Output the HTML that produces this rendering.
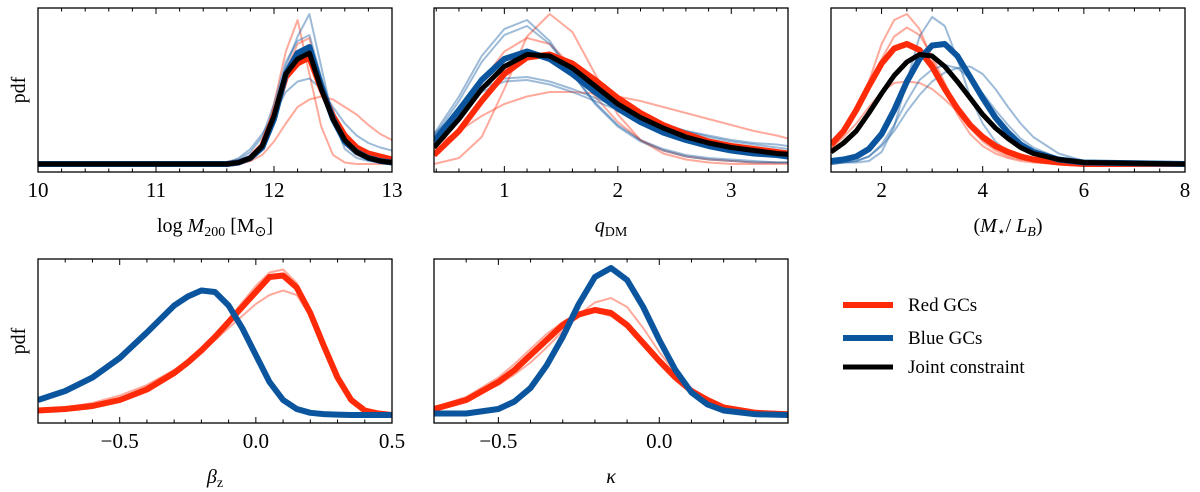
<!DOCTYPE html>
<html><head><meta charset="utf-8"><style>
html,body{margin:0;padding:0;background:#fff;}
svg{display:block;font-family:"Liberation Serif",serif;}
</style></head><body>
<svg id="fig" width="1200" height="492" viewBox="0 0 1200 492" xmlns="http://www.w3.org/2000/svg"></svg>
<script>
// ---- Panel 1: log M200 ----
const m200X = [10,11,11.5,11.6,11.7,11.8,11.9,12.0,12.1,12.2,12.3,12.4,12.5,12.6,12.7,12.8,12.9,13.0];
const m200Black = [0,0,0,0,0.01,0.04,0.12,0.32,0.6,0.7,0.74,0.5,0.3,0.16,0.08,0.04,0.02,0.01];
const m200Red   = [0,0,0,0,0.01,0.04,0.12,0.32,0.58,0.67,0.71,0.5,0.32,0.19,0.11,0.07,0.05,0.03];
const m200Blue  = [0,0,0,0,0.01,0.04,0.11,0.3,0.6,0.74,0.78,0.52,0.3,0.15,0.08,0.04,0.02,0.01];
const m200FaintRed = [
 [0,0,0,0,0,0.02,0.1,0.4,0.75,0.96,0.6,0.25,0.06,0.01,0,0,0,0],
 [0,0,0,0,0.01,0.02,0.06,0.15,0.27,0.38,0.43,0.45,0.43,0.38,0.33,0.26,0.2,0.16],
 [0,0,0,0,0.01,0.03,0.1,0.33,0.62,0.8,0.84,0.52,0.28,0.13,0.06,0.03,0.01,0]
];
const m200FaintBlue = [
 [0,0,0,0,0.02,0.05,0.12,0.35,0.65,0.85,1.0,0.65,0.3,0.1,0.04,0.02,0.01,0],
 [0,0,0,0.01,0.04,0.1,0.2,0.33,0.48,0.55,0.57,0.5,0.38,0.27,0.19,0.14,0.11,0.09],
 [0,0,0,0.01,0.03,0.08,0.18,0.4,0.68,0.82,0.86,0.58,0.33,0.16,0.08,0.05,0.03,0.02]
];
// ---- Panel 2: qDM ----
const qX = [0.38,0.6,0.8,1.0,1.2,1.4,1.6,1.8,2.0,2.2,2.4,2.6,2.8,3.0,3.2,3.4,3.5];
const qBlack = [0.11,0.3,0.5,0.65,0.73,0.72,0.64,0.52,0.4,0.31,0.24,0.18,0.14,0.11,0.09,0.07,0.065];
const qBlue  = [0.15,0.36,0.56,0.7,0.75,0.7,0.6,0.48,0.37,0.28,0.21,0.16,0.12,0.09,0.07,0.06,0.05];
const qRed   = [0.06,0.22,0.42,0.6,0.71,0.73,0.67,0.56,0.44,0.34,0.26,0.2,0.15,0.12,0.1,0.08,0.07];
const qFaintRed = [
 [0.0,0.04,0.18,0.5,0.85,1.0,0.88,0.6,0.33,0.16,0.07,0.03,0.01,0,0,0,0],
 [0.12,0.22,0.32,0.4,0.45,0.48,0.48,0.47,0.45,0.42,0.38,0.34,0.3,0.26,0.22,0.19,0.17],
 [0.1,0.3,0.55,0.75,0.84,0.8,0.65,0.45,0.28,0.16,0.09,0.05,0.03,0.02,0.01,0.01,0.01]
];
const qFaintBlue = [
 [0.2,0.45,0.72,0.9,0.96,0.82,0.6,0.4,0.25,0.15,0.09,0.05,0.03,0.02,0.01,0.01,0.01],
 [0.18,0.42,0.68,0.86,0.92,0.8,0.6,0.41,0.26,0.16,0.1,0.06,0.04,0.03,0.02,0.01,0.01],
 [0.2,0.35,0.5,0.57,0.58,0.55,0.5,0.44,0.38,0.32,0.27,0.22,0.18,0.15,0.13,0.11,0.1],
 [0.18,0.33,0.48,0.55,0.56,0.53,0.48,0.42,0.36,0.31,0.26,0.22,0.19,0.16,0.14,0.13,0.12]
];
// ---- Panel 3: M/L ----
const mlX = [1.0,1.25,1.5,1.75,2.0,2.25,2.5,2.75,3.0,3.25,3.5,3.75,4.0,4.25,4.5,4.75,5.0,5.5,6.0,8.0];
const mlBlack = [0.08,0.14,0.22,0.34,0.47,0.59,0.68,0.73,0.72,0.65,0.55,0.44,0.33,0.24,0.17,0.11,0.07,0.03,0.01,0];
const mlRed   = [0.13,0.22,0.36,0.52,0.67,0.77,0.8,0.76,0.65,0.5,0.37,0.26,0.18,0.12,0.08,0.05,0.03,0.01,0,0];
const mlBlue  = [0.02,0.03,0.05,0.1,0.2,0.36,0.55,0.7,0.79,0.8,0.72,0.58,0.44,0.31,0.21,0.13,0.08,0.03,0.01,0];
const mlFaintRed = [
 [0.1,0.2,0.35,0.55,0.8,0.96,1.0,0.9,0.7,0.5,0.33,0.2,0.12,0.07,0.04,0.02,0.01,0,0,0],
 [0.12,0.22,0.36,0.52,0.7,0.85,0.91,0.86,0.72,0.54,0.37,0.24,0.15,0.09,0.05,0.03,0.02,0.01,0,0],
 [0.1,0.18,0.27,0.38,0.48,0.54,0.55,0.54,0.5,0.43,0.35,0.27,0.19,0.13,0.08,0.05,0.03,0.01,0,0]
];
const mlFaintBlue = [
 [0,0.01,0.01,0.02,0.08,0.25,0.55,0.85,0.98,0.92,0.7,0.45,0.27,0.15,0.08,0.04,0.02,0.01,0,0],
 [0,0.01,0.02,0.05,0.12,0.22,0.35,0.46,0.55,0.61,0.64,0.65,0.6,0.5,0.38,0.27,0.18,0.07,0.02,0],
 [0,0.01,0.02,0.05,0.13,0.26,0.42,0.56,0.63,0.66,0.64,0.57,0.47,0.36,0.26,0.17,0.11,0.04,0.01,0]
];
// ---- Panel 4: beta_z ----
const bX = [-0.8,-0.7,-0.6,-0.5,-0.4,-0.3,-0.25,-0.2,-0.15,-0.1,-0.05,0.0,0.05,0.1,0.15,0.2,0.25,0.3,0.35,0.4,0.45,0.5];
const bBlue = [0.1,0.16,0.25,0.38,0.55,0.73,0.79,0.83,0.82,0.73,0.58,0.4,0.22,0.1,0.04,0.015,0.006,0.003,0,0,0,0];
const bRed  = [0.03,0.04,0.06,0.1,0.17,0.28,0.35,0.43,0.52,0.62,0.72,0.82,0.92,0.93,0.85,0.68,0.46,0.25,0.1,0.03,0.01,0];
const bFaintRed = [
 [0.03,0.05,0.07,0.11,0.19,0.3,0.37,0.45,0.54,0.64,0.75,0.86,0.95,0.97,0.88,0.7,0.47,0.26,0.1,0.03,0.01,0],
 [0.03,0.05,0.08,0.13,0.2,0.3,0.36,0.43,0.5,0.58,0.66,0.74,0.8,0.83,0.8,0.66,0.47,0.27,0.11,0.04,0.01,0]
];
const bFaintBlue = [
 [0.11,0.17,0.26,0.39,0.56,0.72,0.78,0.82,0.81,0.72,0.57,0.39,0.22,0.1,0.04,0.015,0.006,0.003,0,0,0,0]
];
// ---- Panel 5: kappa ----
const kX = [-0.7,-0.6,-0.5,-0.45,-0.4,-0.35,-0.3,-0.25,-0.2,-0.15,-0.1,-0.05,0.0,0.05,0.1,0.15,0.2,0.3,0.4];
const kBlue = [0.01,0.01,0.04,0.09,0.18,0.33,0.52,0.74,0.92,0.98,0.9,0.72,0.5,0.3,0.15,0.07,0.03,0.005,0];
const kRed  = [0.04,0.1,0.22,0.3,0.4,0.5,0.6,0.67,0.7,0.68,0.6,0.48,0.36,0.25,0.16,0.1,0.05,0.015,0.005];
const kFaintRed = [
 [0.04,0.1,0.2,0.27,0.35,0.45,0.56,0.67,0.75,0.78,0.72,0.58,0.42,0.28,0.17,0.1,0.05,0.015,0.005],
 [0.05,0.12,0.25,0.34,0.44,0.54,0.62,0.68,0.69,0.66,0.58,0.47,0.36,0.25,0.16,0.1,0.05,0.015,0.005]
];
// ticks
const m200Major = [10,11,12,13];
const qMajor = [1,2,3];
const mlMajor = [2,4,6,8];
const bMajor = [-0.5,0.0,0.5];
const kMajor = [-0.5,0.0];

const RED='#ff2a08', BLUE='#0a559e';
const NS='http://www.w3.org/2000/svg';
const svg=document.getElementById('fig');
function mk(tag,attrs,parent){const e=document.createElementNS(NS,tag);for(const k in attrs)e.setAttribute(k,attrs[k]);(parent||svg).appendChild(e);return e;}

function panel(cfg){
  const g=mk('g',{});
  
  
  const L=cfg.x0,R=cfg.x1,T=cfg.y0,B=cfg.y1,base=B-8,sc=150;
  const xs=v=>L+(v-cfg.min)/(cfg.max-cfg.min)*(R-L);
  const ys=v=>base-v*sc;
  const clip='c'+cfg.name;
  const cp=mk('clipPath',{id:clip},g);mk('rect',{x:L,y:T,width:R-L,height:B-T},cp);
  const pg=mk('g',{'clip-path':'url(#'+clip+')'},g);
  function line(xarr,yarr,color,w,op,nm){
    const p=mk('polyline',{points:xarr.map((x,i)=>xs(x).toFixed(1)+','+ys(yarr[i]).toFixed(1)).join(' '),fill:'none',stroke:color,'stroke-width':w,'stroke-opacity':op,'stroke-linejoin':'round'},pg);
    
    
  }
  (cfg.fr||[]).forEach(a=>line(cfg.xd,a,RED,2,0.4,'faint-red-line'));
  (cfg.fb||[]).forEach(a=>line(cfg.xd,a,BLUE,2,0.4,'faint-blue-line'));
  if(cfg.red)line(cfg.xd,cfg.red,RED,6,1,'red-gcs-line');
  if(cfg.blue)line(cfg.xd,cfg.blue,BLUE,6,1,'blue-gcs-line');
  if(cfg.black)line(cfg.xd,cfg.black,'#000',5,1,'joint-constraint-line');
  const fr=mk('rect',{x:L,y:T,width:R-L,height:B-T,fill:'none',stroke:'#000','stroke-width':1.3},g);
  
  
  const start=Math.ceil(cfg.min/cfg.minor-1e-6)*cfg.minor;
  for(let v=start; v<=cfg.max+1e-6; v+=cfg.minor){
    const isMaj=cfg.major.some(m=>Math.abs(m-v)<1e-6);
    const len=isMaj?6:3.5, x=xs(v);
    mk('line',{x1:x,x2:x,y1:B,y2:B-len,stroke:'#000','stroke-width':1},g);
    mk('line',{x1:x,x2:x,y1:T,y2:T+len,stroke:'#000','stroke-width':1},g);
  }
  cfg.major.forEach(v=>{
    const t=mk('text',{x:xs(v),y:B+25,'text-anchor':'middle','font-size':21},g);
    t.textContent=(v<0?'\u2212':'')+Math.abs(v).toFixed(cfg.dec);
    
    
  });
  const xl=mk('text',{x:(L+R)/2,y:B+60,'text-anchor':'middle','font-size':20},g);
  xl.innerHTML=cfg.label;
  
  
  if(cfg.pdf){
    const yl=mk('text',{x:0,y:0,'text-anchor':'middle','font-size':20,transform:'translate(25,'+((T+B)/2)+') rotate(-90)'},g);
    yl.textContent='pdf';
    
    
  }
}
panel({name:'panel-log-m200',x0:38,x1:392,y0:8,y1:172,min:10,max:13,minor:0.2,major:m200Major,dec:0,pdf:true,
 xd:m200X,black:m200Black,red:m200Red,blue:m200Blue,fr:m200FaintRed,fb:m200FaintBlue,
 label:'log <tspan font-style="italic">M</tspan><tspan font-size="14" dy="4">200</tspan><tspan dy="-4"> [M</tspan><tspan font-size="14" dy="4">⊙</tspan><tspan dy="-4">]</tspan>'});
panel({name:'panel-q-dm',x0:434,x1:788,y0:8,y1:172,min:0.38,max:3.5,minor:0.2,major:qMajor,dec:0,
 xd:qX,black:qBlack,red:qRed,blue:qBlue,fr:qFaintRed,fb:qFaintBlue,
 label:'<tspan font-style="italic">q</tspan><tspan font-size="14" dy="4">DM</tspan>'});
panel({name:'panel-mass-to-light',x0:831,x1:1185,y0:8,y1:172,min:1,max:8,minor:0.5,major:mlMajor,dec:0,
 xd:mlX,black:mlBlack,red:mlRed,blue:mlBlue,fr:mlFaintRed,fb:mlFaintBlue,
 label:'(<tspan font-style="italic">M</tspan><tspan font-size="14" dy="4">⋆</tspan><tspan dy="-4">/ </tspan><tspan font-style="italic">L</tspan><tspan font-size="14" dy="4" font-style="italic">B</tspan><tspan dy="-4">)</tspan>'});
panel({name:'panel-beta-z',x0:38,x1:392,y0:259,y1:423,min:-0.8,max:0.5,minor:0.1,major:bMajor,dec:1,pdf:true,
 xd:bX,red:bRed,blue:bBlue,fr:bFaintRed,fb:bFaintBlue,
 label:'<tspan font-style="italic">β</tspan><tspan font-size="14" dy="4">z</tspan>'});
panel({name:'panel-kappa',x0:434,x1:788,y0:259,y1:423,min:-0.7,max:0.4,minor:0.1,major:kMajor,dec:1,
 xd:kX,red:kRed,blue:kBlue,fr:kFaintRed,fb:[],
 label:'<tspan font-style="italic">κ</tspan>'});

const lg=mk('g',{});


[['Red GCs',RED,6,305],['Blue GCs',BLUE,6,338],['Joint constraint','#000',5,367]].forEach(([t,c,w,y])=>{
  const e=mk('g',{},lg);
  
  
  mk('line',{x1:843,x2:893,y1:y,y2:y,stroke:c,'stroke-width':w},e);
  const tx=mk('text',{x:908,y:y+6,'font-size':19},e);tx.textContent=t;
});
</script>
</body></html>
